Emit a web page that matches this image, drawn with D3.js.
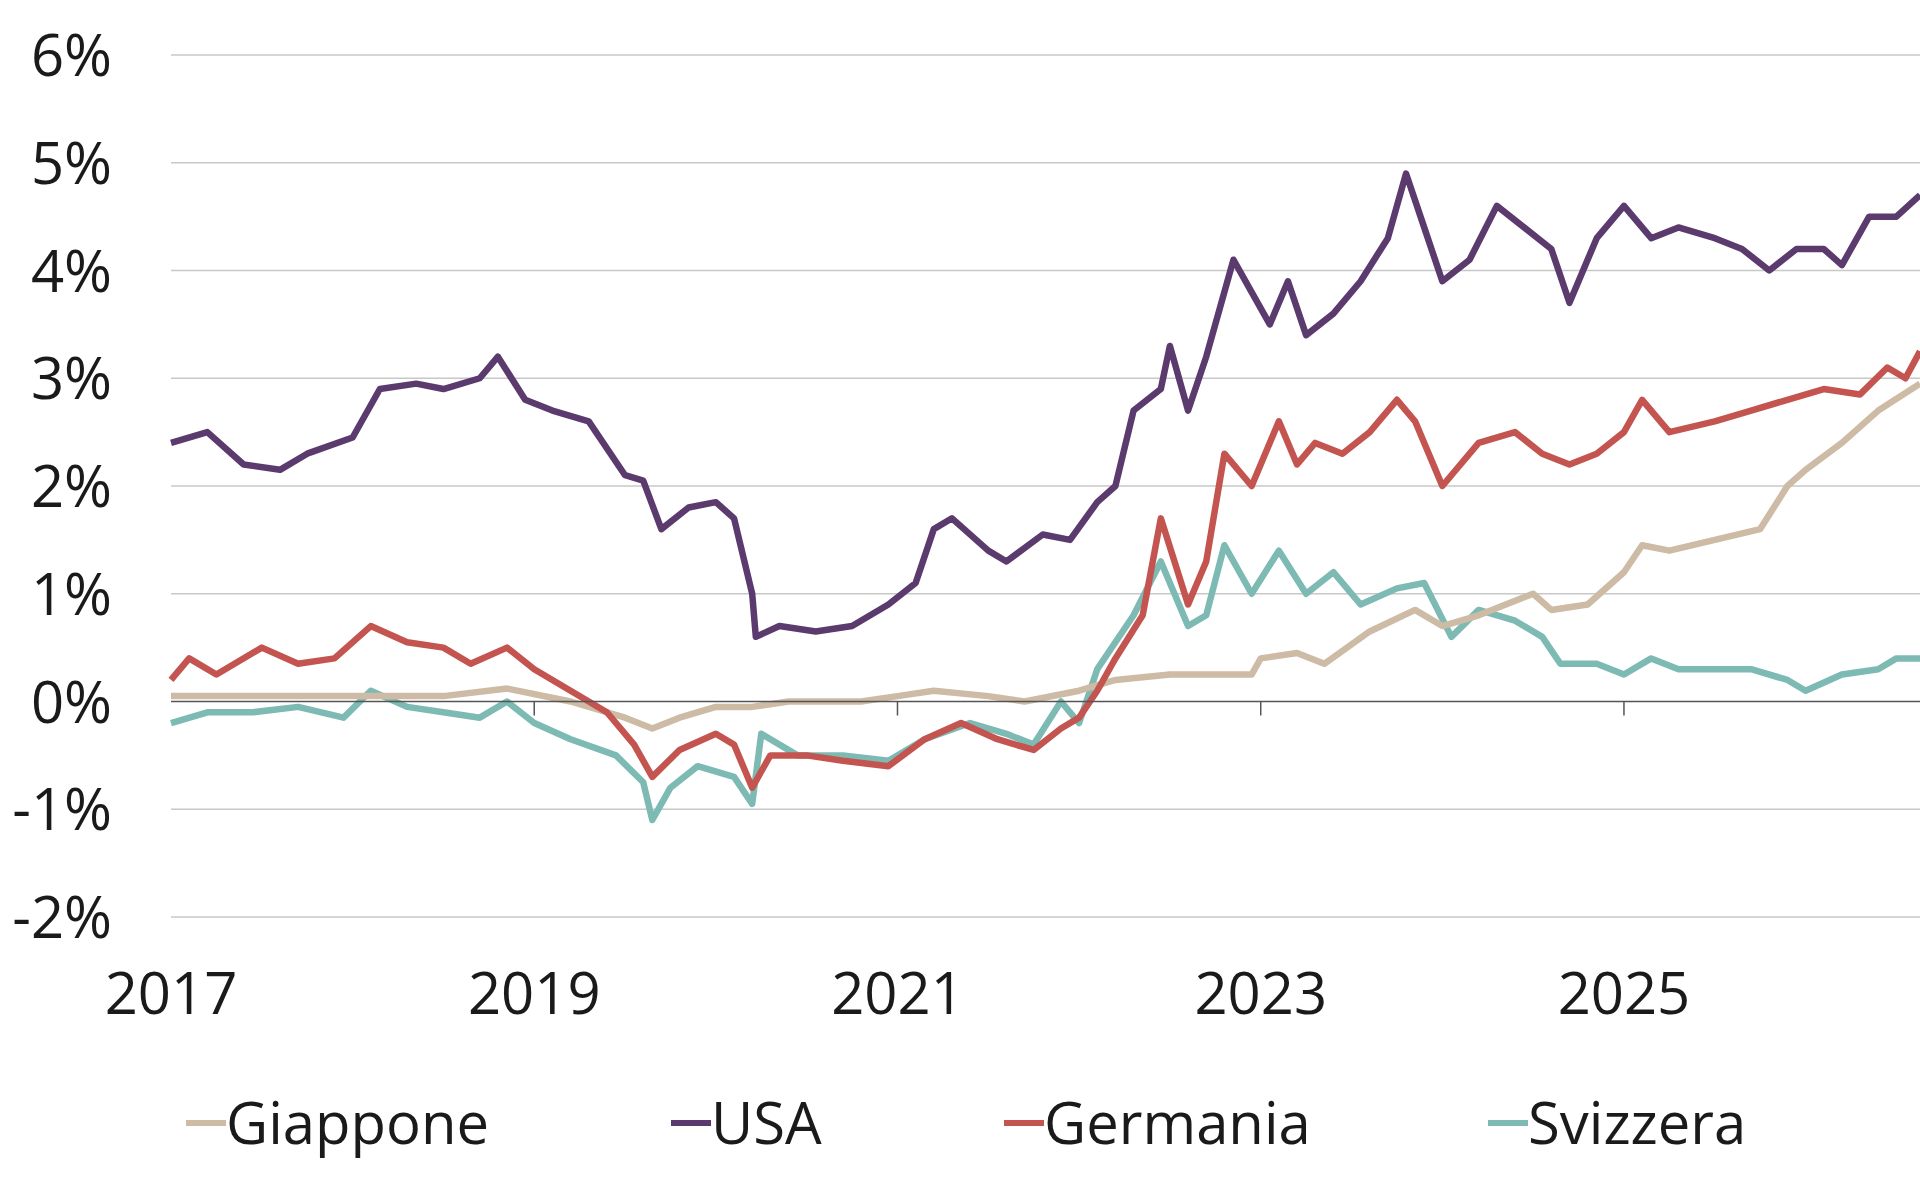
<!DOCTYPE html>
<html><head><meta charset="utf-8">
<script src="https://cdn.jsdelivr.net/npm/d3@7"></script>
<style>body{margin:0;background:#fff}svg{display:block}text{font-family:"Open Sans",sans-serif;fill:#1a1a1a}</style>
</head><body><svg id="chart" width="1920" height="1200"></svg>
<script>
// data (decimal year, percent)
var usaX=[2017.0,2017.2,2017.4,2017.6,2017.75,2018.0,2018.15,2018.35,2018.5,2018.7,2018.8,2018.95,2019.1,2019.3,2019.5,2019.6,2019.7,2019.85,2020.0,2020.1,2020.2,2020.22,2020.35,2020.55,2020.75,2020.95,2021.1,2021.2,2021.3,2021.5,2021.6,2021.8,2021.95,2022.1,2022.2,2022.3,2022.45,2022.5,2022.6,2022.7,2022.85,2022.95,2023.05,2023.15,2023.25,2023.4,2023.55,2023.7,2023.8,2023.9,2024.0,2024.15,2024.3,2024.45,2024.6,2024.7,2024.85,2025.0,2025.15,2025.3,2025.5,2025.65,2025.8,2025.95,2026.1,2026.2,2026.35,2026.5,2026.63];
var usaY=[2.4,2.5,2.2,2.15,2.3,2.45,2.9,2.95,2.9,3.0,3.2,2.8,2.7,2.6,2.1,2.05,1.6,1.8,1.85,1.7,1.0,0.6,0.7,0.65,0.7,0.9,1.1,1.6,1.7,1.4,1.3,1.55,1.5,1.85,2.0,2.7,2.9,3.3,2.7,3.2,4.1,3.8,3.5,3.9,3.4,3.6,3.9,4.3,4.9,4.4,3.9,4.1,4.6,4.4,4.2,3.7,4.3,4.6,4.3,4.4,4.3,4.2,4.0,4.2,4.2,4.05,4.5,4.5,4.7];
var gerX=[2017.0,2017.1,2017.25,2017.5,2017.7,2017.9,2018.1,2018.3,2018.5,2018.65,2018.85,2019.0,2019.2,2019.4,2019.55,2019.65,2019.8,2020.0,2020.1,2020.2,2020.3,2020.5,2020.7,2020.95,2021.15,2021.35,2021.55,2021.75,2021.9,2022.0,2022.1,2022.2,2022.35,2022.45,2022.6,2022.7,2022.8,2022.95,2023.1,2023.2,2023.3,2023.45,2023.6,2023.75,2023.85,2024.0,2024.2,2024.4,2024.55,2024.7,2024.85,2025.0,2025.1,2025.25,2025.5,2025.7,2025.9,2026.1,2026.3,2026.45,2026.55,2026.63];
var gerY=[0.2,0.4,0.25,0.5,0.35,0.4,0.7,0.55,0.5,0.35,0.5,0.3,0.1,-0.1,-0.4,-0.7,-0.45,-0.3,-0.4,-0.8,-0.5,-0.5,-0.55,-0.6,-0.35,-0.2,-0.35,-0.45,-0.25,-0.15,0.1,0.4,0.8,1.7,0.9,1.3,2.3,2.0,2.6,2.2,2.4,2.3,2.5,2.8,2.6,2.0,2.4,2.5,2.3,2.2,2.3,2.5,2.8,2.5,2.6,2.7,2.8,2.9,2.85,3.1,3.0,3.25];
var chX=[2017.0,2017.2,2017.45,2017.7,2017.95,2018.1,2018.3,2018.5,2018.7,2018.85,2019.0,2019.2,2019.45,2019.6,2019.65,2019.75,2019.9,2020.1,2020.2,2020.25,2020.45,2020.7,2020.95,2021.15,2021.4,2021.6,2021.75,2021.9,2022.0,2022.1,2022.3,2022.45,2022.6,2022.7,2022.8,2022.95,2023.1,2023.25,2023.4,2023.55,2023.75,2023.9,2024.05,2024.2,2024.4,2024.55,2024.65,2024.85,2025.0,2025.15,2025.3,2025.5,2025.7,2025.9,2026.0,2026.2,2026.4,2026.5,2026.63];
var chY=[-0.2,-0.1,-0.1,-0.05,-0.15,0.1,-0.05,-0.1,-0.15,0.0,-0.2,-0.35,-0.5,-0.75,-1.1,-0.8,-0.6,-0.7,-0.95,-0.3,-0.5,-0.5,-0.55,-0.35,-0.2,-0.3,-0.4,0.0,-0.2,0.3,0.8,1.3,0.7,0.8,1.45,1.0,1.4,1.0,1.2,0.9,1.05,1.1,0.6,0.85,0.75,0.6,0.35,0.35,0.25,0.4,0.3,0.3,0.3,0.2,0.1,0.25,0.3,0.4,0.4];
var jpX=[2017.0,2017.5,2018.0,2018.5,2018.85,2019.2,2019.5,2019.65,2019.8,2020.0,2020.2,2020.4,2020.8,2021.0,2021.2,2021.5,2021.7,2022.0,2022.2,2022.5,2022.8,2022.95,2023.0,2023.2,2023.35,2023.6,2023.85,2024.0,2024.2,2024.5,2024.6,2024.8,2025.0,2025.1,2025.25,2025.5,2025.75,2025.9,2026.0,2026.2,2026.4,2026.63];
var jpY=[0.05,0.05,0.05,0.05,0.12,0.0,-0.15,-0.25,-0.15,-0.05,-0.05,0.0,0.0,0.05,0.1,0.05,0.0,0.1,0.2,0.25,0.25,0.25,0.4,0.45,0.35,0.65,0.85,0.7,0.8,1.0,0.85,0.9,1.2,1.45,1.4,1.5,1.6,2.0,2.15,2.4,2.7,2.95];
var yTicks=[-2,-1,0,1,2,3,4,5,6];
var xTicks=[2017,2019,2021,2023,2025];
var names=["Giappone","USA","Germania","Svizzera"];
var colors=["#cdbba6","#5b3a6e","#c4544f","#7dbab4"];

var svg=d3.select("#chart");
var x=d3.scaleLinear().domain([2017,2026.63]).range([171,1920]);
var y=d3.scaleLinear().domain([-2,6]).range([917,55]);

// grid
svg.append("g").selectAll("line").data(yTicks.filter(function(d){return d!==0;})).enter().append("line")
  .attr("x1",171).attr("x2",1920).attr("y1",y).attr("y2",y).attr("stroke","#c8c8c8").attr("stroke-width",1.5);
svg.append("g").selectAll("text").data(yTicks).enter().append("text")
  .attr("x",112).attr("y",function(d){return y(d)+21;}).attr("text-anchor","end").attr("font-size",58)
  .text(function(d){return d+"%";});
svg.append("g").selectAll("text").data(xTicks).enter().append("text")
  .attr("x",x).attr("y",1014).attr("text-anchor","middle").attr("font-size",58).text(String);

var series=[[jpX,jpY],[usaX,usaY],[gerX,gerY],[chX,chY]];
var line=d3.line().x(function(d){return x(d[0]);}).y(function(d){return y(d[1]);});
[3,0,2,1].forEach(function(i){
  svg.append("path").datum(d3.zip(series[i][0],series[i][1])).attr("d",line)
    .attr("fill","none").attr("stroke",colors[i]).attr("stroke-width",6.5).attr("stroke-linejoin","round");
});

// zero axis with ticks
svg.append("line").attr("x1",171).attr("x2",1920).attr("y1",y(0)).attr("y2",y(0)).attr("stroke","#555").attr("stroke-width",1.5);
svg.append("g").selectAll("line").data(xTicks.slice(1)).enter().append("line")
  .attr("x1",x).attr("x2",x).attr("y1",y(0)).attr("y2",y(0)+14).attr("stroke","#555").attr("stroke-width",1.5);

// legend
var lx=[186,671,1004,1488];
var lg=svg.append("g").selectAll("g").data(names).enter().append("g")
  .attr("transform",function(d,i){return "translate("+lx[i]+",1123)";});
lg.append("line").attr("x1",0).attr("x2",40).attr("y1",0).attr("y2",0).attr("stroke-width",6)
  .attr("stroke",function(d,i){return colors[i];});
lg.append("text").attr("x",40).attr("y",21).attr("font-size",58).text(function(d){return d;});
</script></body></html>
